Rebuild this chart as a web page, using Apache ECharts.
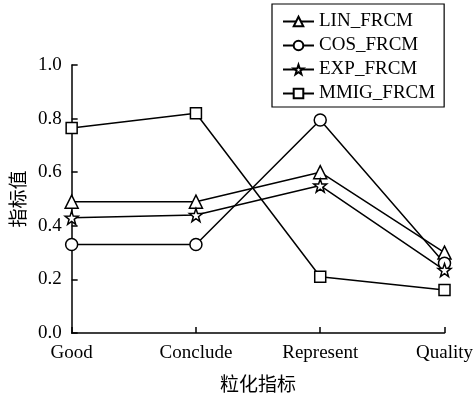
<!DOCTYPE html>
<html><head><meta charset="utf-8">
<script src="https://cdn.jsdelivr.net/npm/echarts@6/dist/echarts.min.js"></script>
<style>html,body{margin:0;padding:0;background:#fff}#c{width:476px;height:398px}</style>
</head><body><div id="c"></div>
<script>
const categories = ['Good', 'Conclude', 'Represent', 'Quality'];
const linValues = [0.49, 0.49, 0.60, 0.30];
const cosValues = [0.33, 0.33, 0.795, 0.26];
const expValues = [0.43, 0.44, 0.55, 0.235];
const mmigValues = [0.765, 0.82, 0.21, 0.16];
const seriesNames = ['LIN_FRCM', 'COS_FRCM', 'EXP_FRCM', 'MMIG_FRCM'];

const star = 'path://M0,-10 L2.35,-3.24 L9.51,-3.09 L3.8,1.24 L5.88,8.09 L0,4 L-5.88,8.09 L-3.8,1.24 L-9.51,-3.09 L-2.35,-3.24 Z';
const serif = '"Liberation Serif","DejaVu Serif",serif';
const cjk = '"Noto Sans CJK SC",sans-serif';

function mk(name, data, symbol, size) {
  return {
    name, type: 'line', data, symbol, symbolSize: size, showAllSymbol: true,
    lineStyle: { color: '#000', width: 1.5 },
    itemStyle: { color: '#fff', borderColor: '#000', borderWidth: 1.5 },
    emphasis: { disabled: true }
  };
}
const chart = echarts.init(document.getElementById('c'));
chart.setOption({
  animation: false,
  backgroundColor: '#fff',
  grid: { left: 71, right: 31, top: 65, bottom: 62 },
  legend: {
    orient: 'vertical', left: 272, top: 4,
    borderColor: '#000', borderWidth: 1.2,
    padding: [8, 9, 4, 10], itemGap: 5, itemWidth: 31, itemHeight: 12,
    textStyle: { fontFamily: serif, fontSize: 19, lineHeight: 19, color: '#000' },
    data: seriesNames
  },
  xAxis: {
    type: 'category', data: categories, boundaryGap: false,
    name: '粒化指标', nameLocation: 'middle', nameGap: 41,
    nameTextStyle: { fontFamily: cjk, fontSize: 19, color: '#000' },
    axisLine: { lineStyle: { color: '#000', width: 1.5 } },
    axisTick: { inside: true, length: 6, lineStyle: { color: '#000', width: 1.5 } },
    axisLabel: { fontFamily: serif, fontSize: 19, color: '#000', margin: 11 },
    splitLine: { show: false }
  },
  yAxis: {
    type: 'value', min: 0, max: 1, interval: 0.2,
    name: '指标值', nameLocation: 'middle', nameGap: 43, nameRotate: 90,
    nameTextStyle: { fontFamily: cjk, fontSize: 19, color: '#000' },
    axisLine: { show: true, lineStyle: { color: '#000', width: 1.5 } },
    axisTick: { show: true, inside: true, length: 6, lineStyle: { color: '#000', width: 1.5 } },
    axisLabel: { fontFamily: serif, fontSize: 19, color: '#000', margin: 10, formatter: v => v.toFixed(1) },
    splitLine: { show: false }
  },
  series: [
    mk(seriesNames[0], linValues, 'triangle', 13),
    mk(seriesNames[1], cosValues, 'circle', 12),
    mk(seriesNames[2], expValues, star, 13),
    mk(seriesNames[3], mmigValues, 'rect', 11)
  ]
});
</script></body></html>
